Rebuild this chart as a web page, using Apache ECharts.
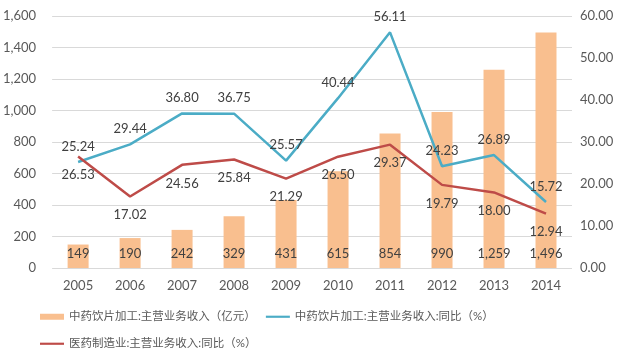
<!DOCTYPE html>
<html><head><meta charset="utf-8">
<script src="https://cdn.jsdelivr.net/npm/echarts@6/dist/echarts.min.js"></script>
<style>html,body{margin:0;padding:0;background:#fff}#c{width:619px;height:356px}</style>
</head><body><div id="c"></div>
<script>
const years = ['2005','2006','2007','2008','2009','2010','2011','2012','2013','2014'];
const revenue = [149,190,242,329,431,615,854,990,1259,1496];
const revenueYoY = [25.24,29.44,36.80,36.75,25.57,40.44,56.11,24.23,26.89,15.72];
const pharmaYoY = [26.53,17.02,24.56,25.84,21.29,26.50,29.37,19.79,18.00,12.94];
const names = ['中药饮片加工:主营业务收入（亿元）','中药饮片加工:主营业务收入:同比（%）','医药制造业:主营业务收入:同比（%）'];

const font = 'Lato, "Noto Sans CJK SC", sans-serif';
const lineIcon = 'path://M0,0H100V9H0Z';
const chart = echarts.init(document.getElementById('c'));
chart.setOption({
  animation:false,
  textStyle:{fontFamily:font},
  grid:{left:51,right:47,top:16,bottom:88},
  legend:[{
    left:35, top:306, itemGap:10, itemWidth:24, itemHeight:6,
    textStyle:{fontSize:11.5,color:'#595959',fontFamily:font},
    data:[{name:names[0],icon:'rect'},{name:names[1],icon:lineIcon}]
  },{
    left:35, top:333, itemWidth:24, itemHeight:6,
    textStyle:{fontSize:11.5,color:'#595959',fontFamily:font},
    data:[{name:names[2],icon:lineIcon}]
  }],
  xAxis:{type:'category',data:years,
    axisLine:{show:false},axisTick:{show:false},
    axisLabel:{color:'#595959',fontSize:13,margin:11}},
  yAxis:[{type:'value',min:0,max:1600,interval:200,
    axisLabel:{color:'#595959',fontSize:13,margin:16,formatter:v=>v.toLocaleString('en-US')},
    splitLine:{lineStyle:{color:'#D9D9D9'}}},
   {type:'value',min:0,max:60,interval:10,
    axisLabel:{color:'#595959',fontSize:13,margin:8,formatter:v=>v.toFixed(2)},
    splitLine:{show:false}}],
  series:[
    {name:names[0],type:'bar',data:revenue,barWidth:21,
     itemStyle:{color:'#F9BF8F'},
     label:{show:true,position:'insideBottom',distance:8,color:'#404040',fontSize:13,
       formatter:p=>p.value.toLocaleString('en-US')}},
    {name:names[1],type:'line',yAxisIndex:1,data:revenueYoY,symbol:'circle',symbolSize:0.01,showSymbol:true,
     lineStyle:{color:'#4BACC6',width:2.5},itemStyle:{color:'#4BACC6'},
     label:{show:true,position:'top',distance:9,color:'#404040',fontSize:13,
       formatter:p=>p.value.toFixed(2)}},
    {name:names[2],type:'line',yAxisIndex:1,data:pharmaYoY,symbol:'circle',symbolSize:0.01,showSymbol:true,
     lineStyle:{color:'#BE4B48',width:2.5},itemStyle:{color:'#BE4B48'},
     label:{show:true,position:'bottom',distance:12,color:'#404040',fontSize:13,
       formatter:p=>p.value.toFixed(2)}}
  ]
});
</script></body></html>
